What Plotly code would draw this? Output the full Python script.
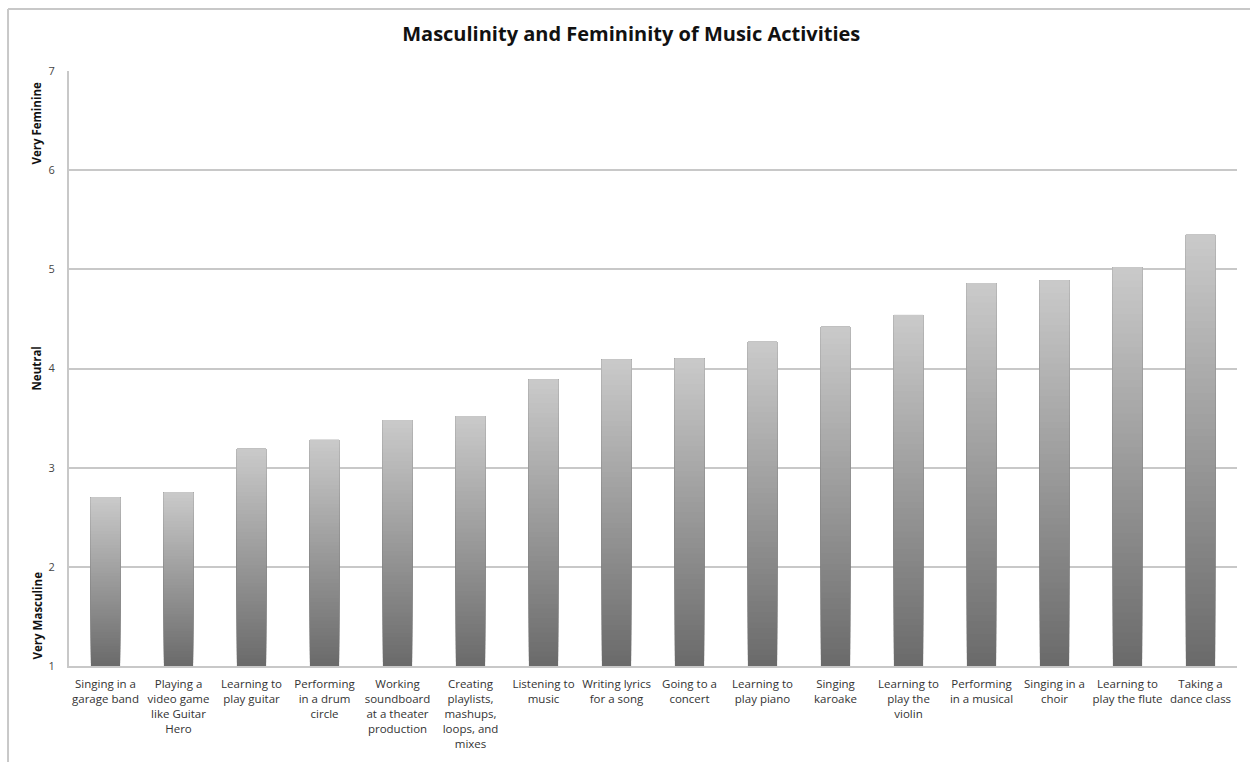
import plotly.graph_objects as go

categories = [
    "Singing in a<br>garage band",
    "Playing a<br>video game<br>like Guitar<br>Hero",
    "Learning to<br>play guitar",
    "Performing<br>in a drum<br>circle",
    "Working<br>soundboard<br>at a theater<br>production",
    "Creating<br>playlists,<br>mashups,<br>loops, and<br>mixes",
    "Listening to<br>music",
    "Writing lyrics<br>for a song",
    "Going to a<br>concert",
    "Learning to<br>play piano",
    "Singing<br>karoake",
    "Learning to<br>play the<br>violin",
    "Performing<br>in a musical",
    "Singing in a<br>choir",
    "Learning to<br>play the flute",
    "Taking a<br>dance class",
]
values = [2.70, 2.75, 3.19, 3.28, 3.48, 3.52, 3.89, 4.09, 4.10, 4.27, 4.42, 4.54, 4.86, 4.89, 5.02, 5.35]

y_tick_values = [1, 2, 3, 4, 5, 6, 7]
side_labels = ["Very Feminine", "Neutral", "Very Masculine"]
side_label_pos = [6.48, 4.0, 1.51]

AXIS_MIN = 1
N_SEG = 60
dark = (106, 106, 106)
light = (202, 202, 202)

fig = go.Figure()
# gradient bars: overlapping layers, each from its base up to the bar's value
for k in range(N_SEG):
    t = (k + 0.5) / N_SEG
    c = tuple(round(dark[i] + (light[i] - dark[i]) * t) for i in range(3))
    bases = [AXIS_MIN + (v - AXIS_MIN) * k / N_SEG for v in values]
    heights = [(v - AXIS_MIN) * (N_SEG - k) / N_SEG for v in values]
    fig.add_trace(go.Bar(
        x=list(range(len(categories))),
        y=heights,
        base=bases,
        width=0.4,
        marker=dict(color="rgb(%d,%d,%d)" % c, line=dict(width=0)),
        hoverinfo="skip",
        showlegend=False,
    ))

grid_col = "#c8c8c8"
for txt, pos in zip(side_labels, side_label_pos):
    fig.add_annotation(
        text="<b>%s</b>" % txt, x=-0.0274, xref="paper", y=pos, yref="y",
        textangle=-90, showarrow=False,
        font=dict(family="Open Sans", size=11.5, color="#111"),
        xanchor="center", yanchor="middle",
    )

# outer chart border (left and top edges visible)
fig.add_shape(type="line", xref="paper", yref="paper", x0=-0.0522, x1=-0.0522,
              y0=1.104, y1=-0.3, line=dict(color=grid_col, width=2))
fig.add_shape(type="line", xref="paper", yref="paper", x0=-0.0522, x1=1.05,
              y0=1.104, y1=1.104, line=dict(color=grid_col, width=2))

fig.update_layout(
    width=1250, height=762,
    barmode="overlay",
    bargap=0.6,
    plot_bgcolor="white", paper_bgcolor="white",
    margin=dict(l=69, r=13, t=71, b=96),
    title=dict(text="<b>Masculinity and Femininity of Music Activities</b>",
               x=0.505, xref="container", xanchor="center",
               y=0.955, yanchor="middle",
               font=dict(family="Open Sans", size=20, color="#111")),
    font=dict(family="Open Sans", size=11, color="#333"),
)
fig.update_xaxes(
    tickmode="array", tickvals=list(range(len(categories))), ticktext=categories,
    range=[-0.5, len(categories) - 0.5], tickangle=0,
    showline=True, linecolor=grid_col, linewidth=2, showgrid=False,
    ticks="", ticklabelstandoff=6, tickfont=dict(size=11.5, color="#333"),
)
fig.update_yaxes(
    range=[1, 7], tickmode="array", tickvals=y_tick_values,
    showgrid=True, gridcolor=grid_col, gridwidth=2,
    showline=True, linecolor=grid_col, linewidth=2,
    zeroline=False, ticks="", ticklabelstandoff=10,
    tickfont=dict(size=11, color="#444"),
)

fig.write_html("out.html")
